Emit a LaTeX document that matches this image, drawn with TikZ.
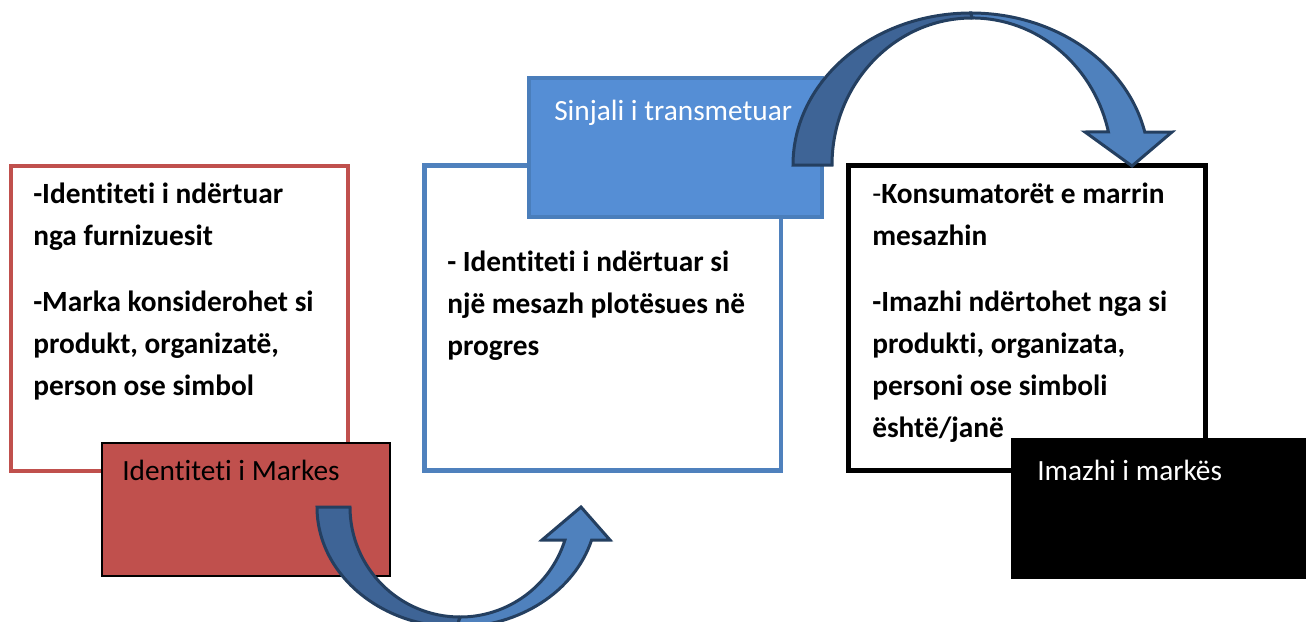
\documentclass[tikz,border=0pt]{standalone}
\usepackage{fontspec}
\setmainfont{Carlito}[Ligatures=NoCommon]
\definecolor{brandred}{RGB}{192,80,77}
\definecolor{brandblue}{RGB}{79,129,189}
\definecolor{signalblue}{RGB}{85,142,213}
\definecolor{signaledge}{RGB}{74,126,187}
\definecolor{arrowdark}{RGB}{62,100,150}
\definecolor{arrowlight}{RGB}{79,129,189}
\definecolor{arrowline}{RGB}{36,63,96}
\begin{document}
\begin{tikzpicture}[x=0.75pt,y=-0.75pt,
  frame/.style={draw, fill=white, inner sep=0pt},
  tag/.style={draw, inner sep=0pt},
  bodytext/.style={font=\fontsize{22}{31.5}\selectfont\bfseries, align=left, inner sep=0pt, anchor=base west},
  tagtext/.style={font=\fontsize{22}{26}\selectfont, inner sep=0pt, anchor=base west},
  arrowbody/.style={draw=arrowline, line width=2.25pt, line join=miter}]
\useasboundingbox (0,0) rectangle (1312,621);
\clip (0,0) rectangle (1312,621);

% outlined stage frames
\node[frame, draw=brandred, line width=3pt, minimum width=252.75pt, minimum height=228.75pt] (idframe) at (179,318) {};
\node[frame, draw=brandblue, line width=3.4pt, minimum width=267.4pt, minimum height=229.1pt] (sigframe) at (602.5,318) {};
\node[frame, draw=black, line width=3.75pt, minimum width=267.75pt, minimum height=228.75pt] (imgframe) at (1027,318) {};

% stage texts (anchored at the baseline of their last line)
\node[bodytext] (idtext) at (33,395) {-Identiteti i ndërtuar\\ nga furnizuesit\\[18pt] -Marka konsiderohet si\\ produkt, organizatë,\\ person ose simbol};
\node[bodytext] (sigtext) at (447,355) {- Identiteti i ndërtuar si\\ një mesazh plotësues në\\ progres};
\node[bodytext] (imgtext) at (872,437) {\mdseries-\bfseries Konsumatorët e marrin\\ mesazhin\\[18pt] -Imazhi ndërtohet nga si\\ produkti, organizata,\\ personi ose simboli\\ është/janë};

% filled title tags
\node[tag, fill=brandred, draw=black, line width=1pt, minimum width=216pt, minimum height=99.75pt] (idtag) at (246,509.5) {};
\node[tag, fill=signalblue, draw=signaledge, line width=3pt, minimum width=219.75pt, minimum height=104.25pt] (sigtag) at (675.5,147.5) {};
\node[tag, fill=black, draw=black, line width=1pt, minimum width=219.75pt, minimum height=104.25pt] (imgtag) at (1158.5,508.5) {};

\node[tagtext, text=black] (idlabel) at (122,480) {Identiteti i Markes};
\node[tagtext, text=white] (siglabel) at (554,120) {Sinjali i transmetuar};
\node[tagtext, text=white] (imglabel) at (1037,480) {Imazhi i markës};

% lower curved arrow: identity -> signal
\filldraw[arrowbody, fill=arrowdark] (317,507) arc[start angle=180, end angle=90, x radius=140, y radius=120]
  -- (460,617) arc[start angle=90, end angle=180, x radius=110, y radius=110] -- cycle;
\filldraw[arrowbody, fill=arrowlight] (457,627) arc[start angle=90, end angle=16, x radius=140, y radius=120]
  -- (610,540) -- (581,507) -- (542,540) -- (564.9,540.1)
  arc[start angle=17.5, end angle=90, x radius=110, y radius=110] -- cycle;

% upper curved arrow: signal -> image
\filldraw[arrowbody, fill=arrowdark] (793,165) arc[start angle=180, end angle=270, x radius=178, y radius=152]
  -- (972,18) arc[start angle=270, end angle=180, x radius=140, y radius=147] -- cycle;
\filldraw[arrowbody, fill=arrowlight] (971,13) arc[start angle=270, end angle=347.5, x radius=178, y radius=152]
  -- (1172,132) -- (1132,166) -- (1085,132) -- (1108.4,131.9)
  arc[start angle=347, end angle=270, x radius=140, y radius=147] -- cycle;
\end{tikzpicture}
\end{document}
